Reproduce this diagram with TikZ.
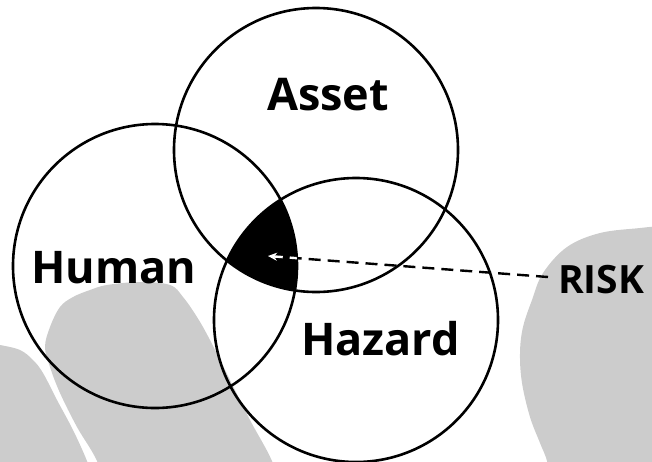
\documentclass[tikz,border=0pt]{standalone}
\usepackage{fontspec}
\setmainfont{Open Sans}
\usetikzlibrary{arrows.meta}
\definecolor{blobgrey}{HTML}{CCCCCC}
\tikzset{
  ring/.style={draw=black, line width=2.6pt},
  label/.style={font=\bfseries\fontsize{45}{45}\selectfont, inner sep=0pt, anchor=base west},
  riskline/.style={line width=2.4pt, dash pattern=on 12pt off 7pt},
}
\begin{document}
\begin{tikzpicture}[x=1pt, y=-1pt]
  \useasboundingbox (0,0) rectangle (652,461);
  \begin{scope}
    \clip (0,0) rectangle (652,461);
    % soft grey background shapes
    \fill[blobgrey] plot[smooth, tension=0.6] coordinates {(110,500) (97,461) (77,427) (60,393) (50,367) (45,347) (50,327) (60,307) (73,297) (90,290) (107,285) (140,282) (170,285) (183,297) (197,317) (210,340) (230,380) (250,420) (272,461) (285,500)} -- cycle;
    \fill[blobgrey] plot[smooth, tension=0.6] coordinates {(-5,345) (0,345) (20,350) (33,360) (43,373) (57,400) (73,430) (87,461) (97,490)} -- (-5,490) -- cycle;
    \fill[blobgrey] plot[smooth, tension=0.6] coordinates {(660,226) (640,228) (600,233) (567,247) (543,273) (532,300) (523,327) (520,353) (522,383) (530,417) (540,443) (547,461) (553,490)} -- (660,490) -- cycle;
  \end{scope}

  % the three sets
  \coordinate (cA) at (316,150);
  \coordinate (cH) at (155,266);
  \coordinate (cZ) at (356,320);
  \def\rad{142}

  % common part of all three sets
  \begin{scope}
    \clip (cA) circle[radius=\rad];
    \clip (cH) circle[radius=\rad];
    \fill[black] (cZ) circle[radius=\rad];
  \end{scope}

  \draw[ring] (cA) circle[radius=\rad];
  \draw[ring] (cH) circle[radius=\rad];
  \draw[ring] (cZ) circle[radius=\rad];

  \node[label] (asset) at (267,110) {Asset};
  \node[label] (human) at (31,283) {Human};
  \node[label] (hazard) at (301,355) {Hazard};
  \node[label, font=\bfseries\fontsize{39}{39}\selectfont] (risk) at (558,293) {RISK};

  \coordinate (tip) at (268,256);
  \coordinate (tail) at (548,277);

  % pointer: black outside, white inside the common part
  \draw[riskline] (tail) -- (tip);
  \begin{scope}
    \clip (cA) circle[radius=\rad];
    \clip (cH) circle[radius=\rad];
    \clip (cZ) circle[radius=\rad];
    \draw[riskline, white, -{Stealth[length=9pt, width=8pt]}] (tail) -- (tip);
  \end{scope}
\end{tikzpicture}
\end{document}
